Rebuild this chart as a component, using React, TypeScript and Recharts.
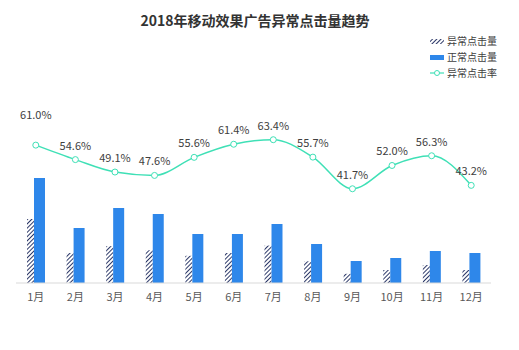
import React from "react";
import { ComposedChart, Bar, Line, XAxis, YAxis, LabelList } from "recharts";

const months = ["1月", "2月", "3月", "4月", "5月", "6月", "7月", "8月", "9月", "10月", "11月", "12月"];
const abnormalClicks = [640, 300, 368, 328, 272, 300, 374, 217, 92, 130, 180, 130];
const normalClicks = [1050, 550, 750, 690, 490, 490, 590, 390, 220, 250, 320, 300];
const abnormalRate = [61.0, 54.6, 49.1, 47.6, 55.6, 61.4, 63.4, 55.7, 41.7, 52.0, 56.3, 43.2];

const seriesNames = ["异常点击量", "正常点击量", "异常点击率"];

const data = months.map((m, i) => ({
  month: m,
  abnormal: abnormalClicks[i],
  normal: normalClicks[i],
  rate: abnormalRate[i],
}));

const BLUE = "#2E87EA";
const MINT = "#3FE0B6";
const NAVY = "#2C3868";
const FONT = "'Noto Sans CJK SC', 'Noto Sans', sans-serif";

const RateLabel = (props: any) => {
  const { x, y, value, index } = props;
  // first label sits higher in the original
  const lift = index === 0 ? 26 : 10;
  return (
    <text x={x} y={y - lift} textAnchor="middle" fontSize={11} fill="#404040" fontFamily={FONT}>
      {Number(value).toFixed(1)}%
    </text>
  );
};

function ChartLegend() {
  return (
    <svg width={519} height={350} style={{ position: "absolute", left: 0, top: 0, pointerEvents: "none" }}>
      <g fontFamily={FONT} fontSize={10} fill="#404040">
        <rect x={430} y={39} width={14} height={5} fill="url(#hatch)" />
        <text x={447} y={45}>{seriesNames[0]}</text>
        <rect x={430} y={55} width={14} height={5} fill={BLUE} />
        <text x={447} y={61}>{seriesNames[1]}</text>
        <line x1={430} y1={73} x2={444} y2={73} stroke={MINT} strokeWidth={1.2} />
        <circle cx={437} cy={73} r={2.5} fill="#fff" stroke={MINT} />
        <text x={447} y={77}>{seriesNames[2]}</text>
      </g>
    </svg>
  );
}

export default function App() {
  return (
    <div style={{ position: "absolute", left: 0, top: 0, width: 519, height: 350, background: "#fff" }}>
      <div
        style={{
          position: "absolute",
          left: 0,
          width: 510,
          top: 10,
          textAlign: "center",
          fontFamily: FONT,
          fontWeight: 700,
          fontSize: 14,
          color: "#333",
        }}
      >
        2018年移动效果广告异常点击量趋势
      </div>
      <ComposedChart
        width={519}
        height={350}
        data={data}
        margin={{ top: 57, right: 28, bottom: 37, left: 16 }}
        barGap={0}
      >
        <defs>
          <pattern id="hatch" patternUnits="userSpaceOnUse" width={3} height={3} patternTransform="rotate(45)">
            <rect width={3} height={3} fill="#fff" />
            <line x1={0} y1={0} x2={0} y2={3} stroke={NAVY} strokeWidth={2} />
          </pattern>
        </defs>
        <XAxis
          dataKey="month"
          axisLine={{ stroke: "#d9d9d9" }}
          tickLine={false}
          tick={{ fontSize: 11, fill: "#595959", fontFamily: FONT }}
          tickMargin={4}
          height={30}
        />
        <YAxis yAxisId="count" hide domain={[0, 2260]} />
        <YAxis yAxisId="rate" hide orientation="right" domain={[0, 100]} />
        <Bar yAxisId="count" dataKey="abnormal" fill="url(#hatch)" barSize={7} isAnimationActive={false} />
        <Bar yAxisId="count" dataKey="normal" fill={BLUE} barSize={11} isAnimationActive={false} />
        <Line
          yAxisId="rate"
          type="monotone"
          dataKey="rate"
          stroke={MINT}
          strokeWidth={1.5}
          dot={{ r: 3, fill: "#fff", stroke: MINT, strokeWidth: 1 }}
          isAnimationActive={false}
        >
          <LabelList dataKey="rate" content={RateLabel} />
        </Line>
      </ComposedChart>
      <ChartLegend />
    </div>
  );
}
